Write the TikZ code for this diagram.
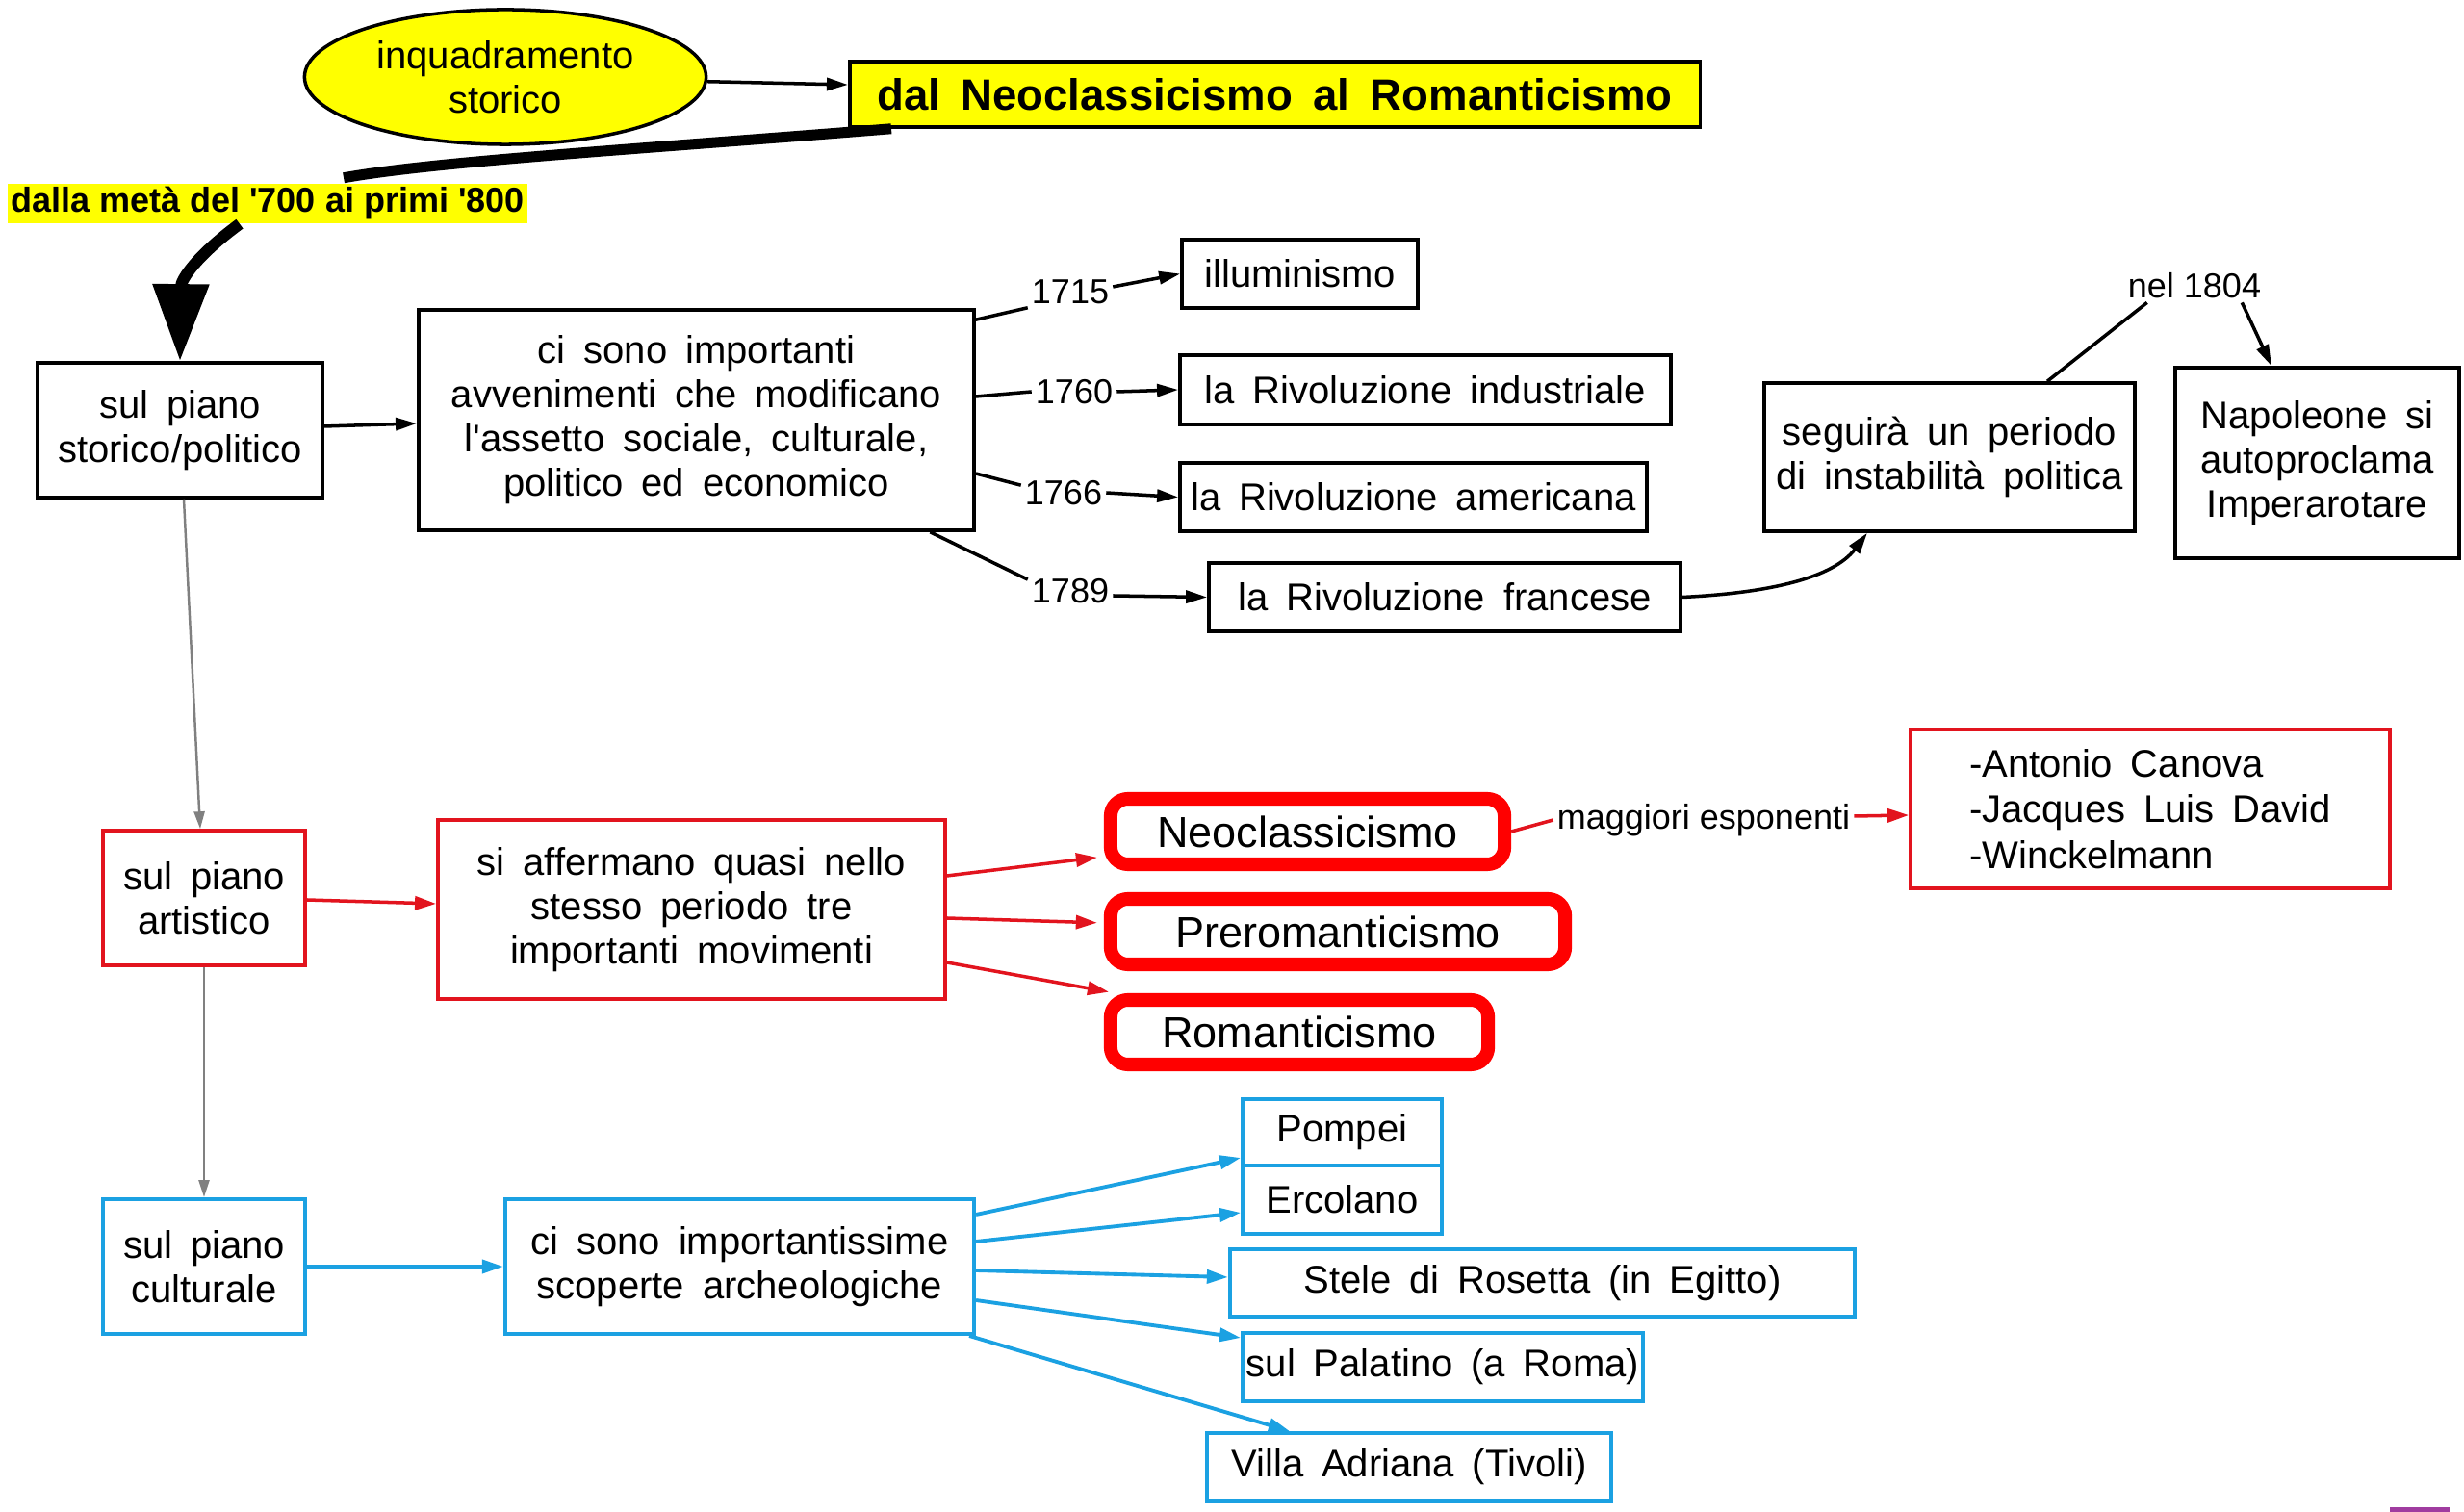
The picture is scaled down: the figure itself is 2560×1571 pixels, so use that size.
\documentclass[tikz,border=0pt]{standalone}
\usepackage{fontspec}
\setmainfont{Liberation Sans}[WordSpace=1.7]
\newfontfamily\lbl{Liberation Sans}
\usetikzlibrary{arrows.meta,shapes.geometric}
\definecolor{cyanb}{RGB}{27,161,226}
\definecolor{redt}{RGB}{226,20,30}
\definecolor{redk}{RGB}{255,0,0}
\definecolor{grayc}{RGB}{128,128,128}
\definecolor{yel}{RGB}{255,255,0}
\definecolor{purp}{RGB}{160,60,160}
\begin{document}
\begin{tikzpicture}[x=0.01cm,y=-0.01cm,
  base/.style={align=center,inner sep=0pt,font=\fontsize{11.38}{13.1}\selectfont},
  bbox/.style={base,draw=black,line width=1pt},
  rbox/.style={base,draw=redt,line width=1pt},
  cbox/.style={base,draw=cyanb,line width=1.1pt},
  mbox/.style={base,draw=redk,line width=4pt,rounded corners=0.18cm,font=\fontsize{12.8}{15}\selectfont},
  yr/.style={inner sep=1pt,font=\lbl\fontsize{10.24}{12}\selectfont},
  kline/.style={line width=1pt,black},
  karr/.style={kline,-{Triangle[length=2.2mm,width=1.3mm]}},
  garr/.style={line width=0.7pt,grayc,-{Triangle[length=1.8mm,width=1.1mm]}},
  rline/.style={line width=1pt,redt},
  rarr/.style={rline,-{Triangle[length=2.2mm,width=1.4mm]}},
  carr/.style={line width=1.1pt,cyanb,-{Triangle[length=2.2mm,width=1.4mm]}}
]
\useasboundingbox (0,0) rectangle (2560,1571);

% top
\node[ellipse,draw=black,fill=yel,line width=1pt,minimum width=4.17cm,minimum height=1.4cm,align=center,inner sep=0pt,font=\fontsize{11.38}{13.1}\selectfont] (inq) at (525,80) {inquadramento\\storico};
\node[bbox,fill=yel,minimum width=8.83cm,minimum height=0.68cm,font=\bfseries\fontsize{12.95}{15}\selectfont] (title) at (1324.5,98) {dal Neoclassicismo al Romanticismo};
\node[fill=yel,inner sep=0pt,minimum width=5.4cm,minimum height=0.41cm,font=\lbl\bfseries\fontsize{10.24}{12}\selectfont] (dalla) at (278,211.5) {dalla metà del \textquotesingle700 ai primi \textquotesingle800};

% storico/politico row
\node[bbox,minimum width=2.96cm,minimum height=1.4cm] (storico) at (187,447) {sul piano\\storico/politico};
\node[bbox,minimum width=5.77cm,minimum height=2.29cm] (avv) at (723.5,436.5) {ci sono importanti\\avvenimenti che modificano\\l\textquotesingle assetto sociale, culturale,\\politico ed economico};
\node[bbox,minimum width=2.45cm,minimum height=0.71cm] (illum) at (1350.5,284.5) {illuminismo};
\node[bbox,minimum width=5.10cm,minimum height=0.72cm] (indus) at (1481,405) {la Rivoluzione industriale};
\node[bbox,minimum width=4.85cm,minimum height=0.71cm] (amer) at (1468.5,516.5) {la Rivoluzione americana};
\node[bbox,minimum width=4.90cm,minimum height=0.71cm] (franc) at (1501,620.5) {la Rivoluzione francese};
\node[bbox,minimum width=3.85cm,minimum height=1.54cm] (seguira) at (2025.5,475) {seguirà un periodo\\di instabilità politica};
\node[bbox,minimum width=2.95cm,minimum height=1.98cm] (napo) at (2407.5,481) {Napoleone si\\autoproclama\\Imperarotare};
\node[yr] (y1715) at (1112,303) {1715};
\node[yr] (y1760) at (1116,407) {1760};
\node[yr] (y1766) at (1105,512) {1766};
\node[yr] (y1789) at (1112,614) {1789};
\node[yr] (n1804) at (2280,297) {nel 1804};

% artistico row
\node[rbox,minimum width=2.10cm,minimum height=1.4cm] (arti) at (212,933) {sul piano\\artistico};
\node[rbox,minimum width=5.27cm,minimum height=1.86cm] (aff) at (718.5,945) {si affermano quasi nello\\stesso periodo tre\\importanti movimenti};
\node[mbox,minimum width=4.09cm,minimum height=0.68cm] (neo) at (1358.5,864) {Neoclassicismo};
\node[mbox,minimum width=4.72cm,minimum height=0.68cm] (pre) at (1390,968) {Preromanticismo};
\node[mbox,minimum width=3.92cm,minimum height=0.67cm] (roman) at (1350,1072.5) {Romanticismo};
\node[rbox,minimum width=4.98cm,minimum height=1.65cm,align=left,font=\fontsize{11.38}{13.5}\selectfont] (espon) at (2234,840.5) {-Antonio Canova\\-Jacques Luis David\\-Winckelmann};
\node[yr] (magg) at (1770,852) {maggiori esponenti};

% culturale row
\node[cbox,minimum width=2.10cm,minimum height=1.4cm] (cult) at (212,1316) {sul piano\\culturale};
\node[cbox,minimum width=4.87cm,minimum height=1.4cm] (arch) at (768.5,1316) {ci sono importantissime\\scoperte archeologiche};
\node[cbox,minimum width=2.07cm,minimum height=0.69cm] (pomp) at (1394.5,1176.5) {Pompei};
\node[cbox,minimum width=2.07cm,minimum height=0.71cm] (erco) at (1394.5,1246.5) {Ercolano};
\node[cbox,minimum width=6.49cm,minimum height=0.70cm] (stele) at (1602.5,1333) {Stele di Rosetta (in Egitto)};
\node[cbox,minimum width=4.16cm,minimum height=0.71cm] (pala) at (1499,1420.5) {sul Palatino (a Roma)};
\node[cbox,minimum width=4.20cm,minimum height=0.71cm] (villa) at (1464,1524.5) {Villa Adriana (Tivoli)};

% connectors top
\draw[karr] (inq) -- (title);
\draw[line width=0.11cm] ([xshift=0.45cm]title.south west) .. controls (650,156) and (450,168) .. ([xshift=0.79cm,yshift=0.055cm]dalla.north);
\draw[line width=0.12cm,-{Triangle[length=0.8cm,width=0.56cm]}] ([xshift=-0.29cm]dalla.south) .. controls (205,265) and (188,290) .. (storico.north);

% storico connectors
\draw[karr] ([yshift=0.04cm]storico.east) -- ([yshift=-0.035cm]avv.west);
\draw[kline] ([yshift=-0.12cm]avv.north east) -- (y1715.south west);
\draw[karr] ([yshift=0.05cm]y1715.east) -- (illum.west);
\draw[kline] ([yshift=0.245cm]avv.east) -- (y1760.west);
\draw[karr] (y1760.east) -- (indus.west);
\draw[kline] ([yshift=-0.555cm]avv.east) -- (y1766.170);
\draw[karr] (y1766.east) -- (amer.west);
\draw[kline] ([xshift=-0.475cm]avv.south east) -- (y1789.165);
\draw[karr] ([yshift=-0.05cm]y1789.east) -- (franc.west);
\draw[karr] (franc.east) .. controls (1840,616) and (1905,600) .. ([xshift=-0.855cm]seguira.south);
\draw[kline] ([xshift=1.015cm]seguira.north) -- ([xshift=0.24cm]n1804.south west);
\draw[karr] ([xshift=-0.24cm]n1804.south east) -- ([xshift=-0.475cm]napo.north);

% vertical gray
\draw[garr] ([xshift=0.04cm]storico.south) -- ([xshift=-0.04cm]arti.north);
\draw[garr] (arti.south) -- (cult.north);

% red
\draw[rarr] ([yshift=-0.02cm]arti.east) -- ([yshift=0.06cm]aff.west);
\draw[rarr,shorten >=0.07cm] ([yshift=0.35cm]aff.east) -- ([yshift=-0.26cm]neo.west);
\draw[rarr,shorten >=0.07cm] ([yshift=-0.09cm]aff.east) -- ([yshift=0.09cm]pre.west);
\draw[rarr,shorten >=0.07cm] ([yshift=-0.55cm]aff.east) -- ([xshift=0.12cm]roman.north west);
\draw[rline] (neo.east) -- (magg.west);
\draw[rarr] ([yshift=0.04cm]magg.east) -- ([yshift=-0.065cm]espon.west);

% cyan
\draw[carr] (cult.east) -- (arch.west);
\draw[carr] ([yshift=0.54cm]arch.east) -- ([yshift=-0.265cm]pomp.west);
\draw[carr] ([yshift=0.26cm]arch.east) -- ([yshift=-0.135cm]erco.west);
\draw[carr] ([yshift=-0.04cm]arch.east) -- ([yshift=0.06cm]stele.west);
\draw[carr] ([yshift=-0.35cm]arch.east) -- ([yshift=0.305cm]pala.west);
\draw[carr] ([xshift=-0.07cm]arch.south east) -- ([xshift=-1.24cm]villa.north);

\fill[purp] (2483,1566) rectangle (2545,1571);
\end{tikzpicture}
\end{document}
